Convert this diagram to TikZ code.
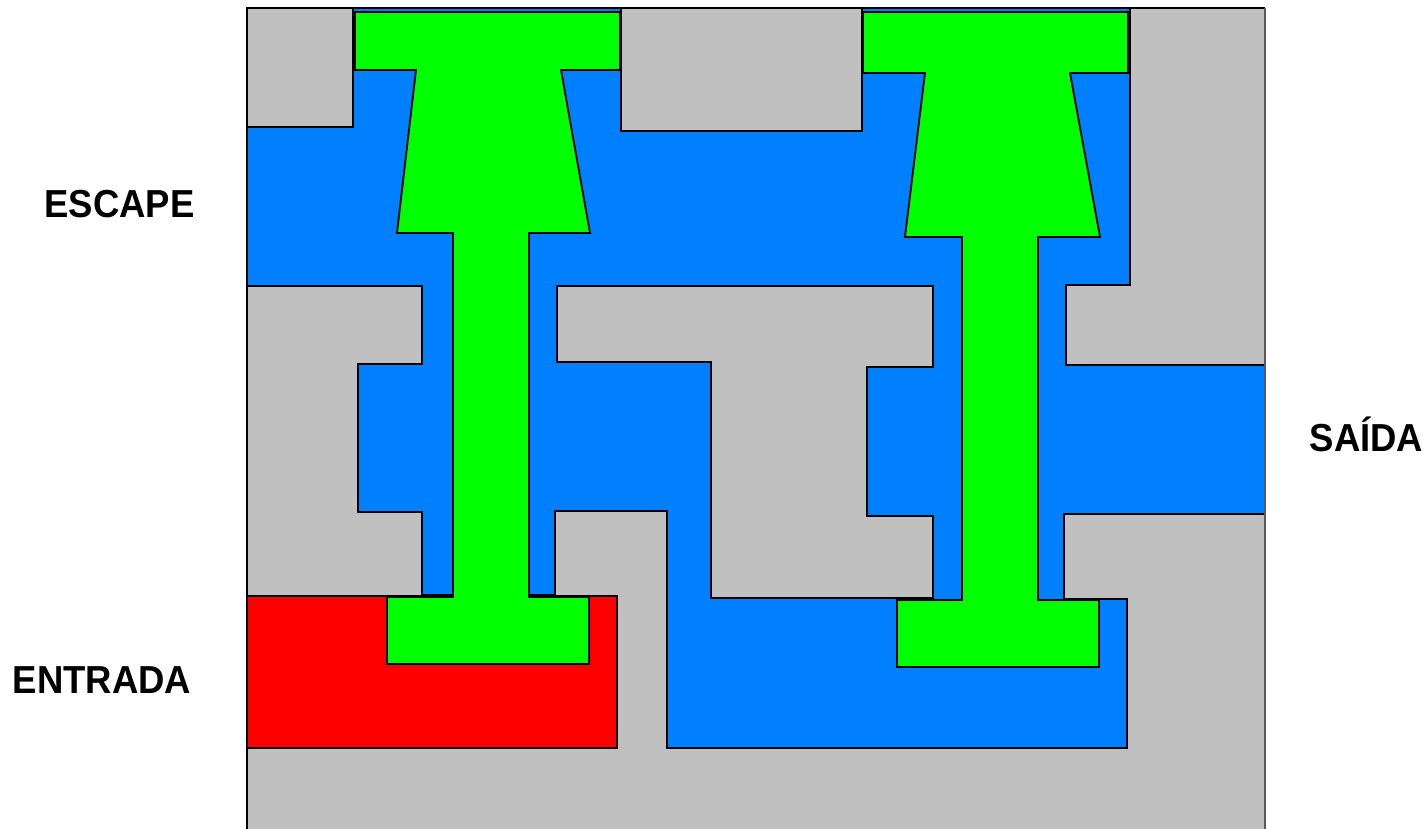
\documentclass[tikz,border=0pt]{standalone}
\usepackage{fontspec}
\setmainfont{Liberation Sans}
\definecolor{body}{HTML}{C0C0C0}
\definecolor{fluid}{HTML}{0080FF}
\definecolor{piston}{HTML}{00FF00}
\definecolor{inlet}{HTML}{FF0000}
\tikzset{
  part/.style={draw=black, line width=1.8pt, line join=miter},
  label/.style={inner sep=0pt, anchor=base, font=\bfseries\fontsize{36.5}{40}\selectfont, yscale=1.07}
}
\begin{document}
\begin{tikzpicture}[x=1pt,y=-1pt]
\useasboundingbox (0,0) rectangle (1426,829);
% valve body
\fill[body] (247,8) rectangle (1265,835);
% fluid cavity
\path[part, fill=fluid] (353,8) -- (621,8) -- (621,131) -- (862,131) -- (862,8) -- (1130,8)
  -- (1130,285) -- (1066,285) -- (1066,365) -- (1265,365) -- (1265,514) -- (1064,514)
  -- (1064,599) -- (1127,599) -- (1127,748) -- (667,748) -- (667,511) -- (555,511)
  -- (555,595) -- (422,595) -- (422,512) -- (358,512) -- (358,364) -- (422,364)
  -- (422,286) -- (247,286) -- (247,127) -- (353,127) -- cycle;
% central island of the body
\path[part, fill=body] (557,286) -- (933,286) -- (933,367) -- (867,367) -- (867,516)
  -- (933,516) -- (933,598) -- (711,598) -- (711,362) -- (557,362) -- cycle;
% inlet chamber
\path[part, fill=inlet] (247,596) rectangle (617,748);
% left piston
\path[part, fill=piston] (355,12) -- (620,12) -- (620,70) -- (561,70) -- (590,233)
  -- (529,233) -- (529,597) -- (589,597) -- (589,664) -- (387,664) -- (387,597)
  -- (453,597) -- (453,233) -- (397,233) -- (416,70) -- (355,70) -- cycle;
% right piston
\path[part, fill=piston] (863,12) -- (1128,12) -- (1128,73) -- (1070,73) -- (1100,237)
  -- (1038,237) -- (1038,600) -- (1099,600) -- (1099,667) -- (897,667) -- (897,600)
  -- (962,600) -- (962,237) -- (905,237) -- (925,73) -- (863,73) -- cycle;
% frame edges
\draw[black, line width=1.8pt] (247,835) -- (247,8) -- (1265,8);
\draw[black!65, line width=1.8pt] (1265,8) -- (1265,835);
% labels
\node[label] (escape) at (119.5,218) {ESCAPE};
\node[label] (entrada) at (102,693) {ENTRADA};
\node[label] (saida) at (1366.5,451) {SAÍDA};
\end{tikzpicture}
\end{document}
